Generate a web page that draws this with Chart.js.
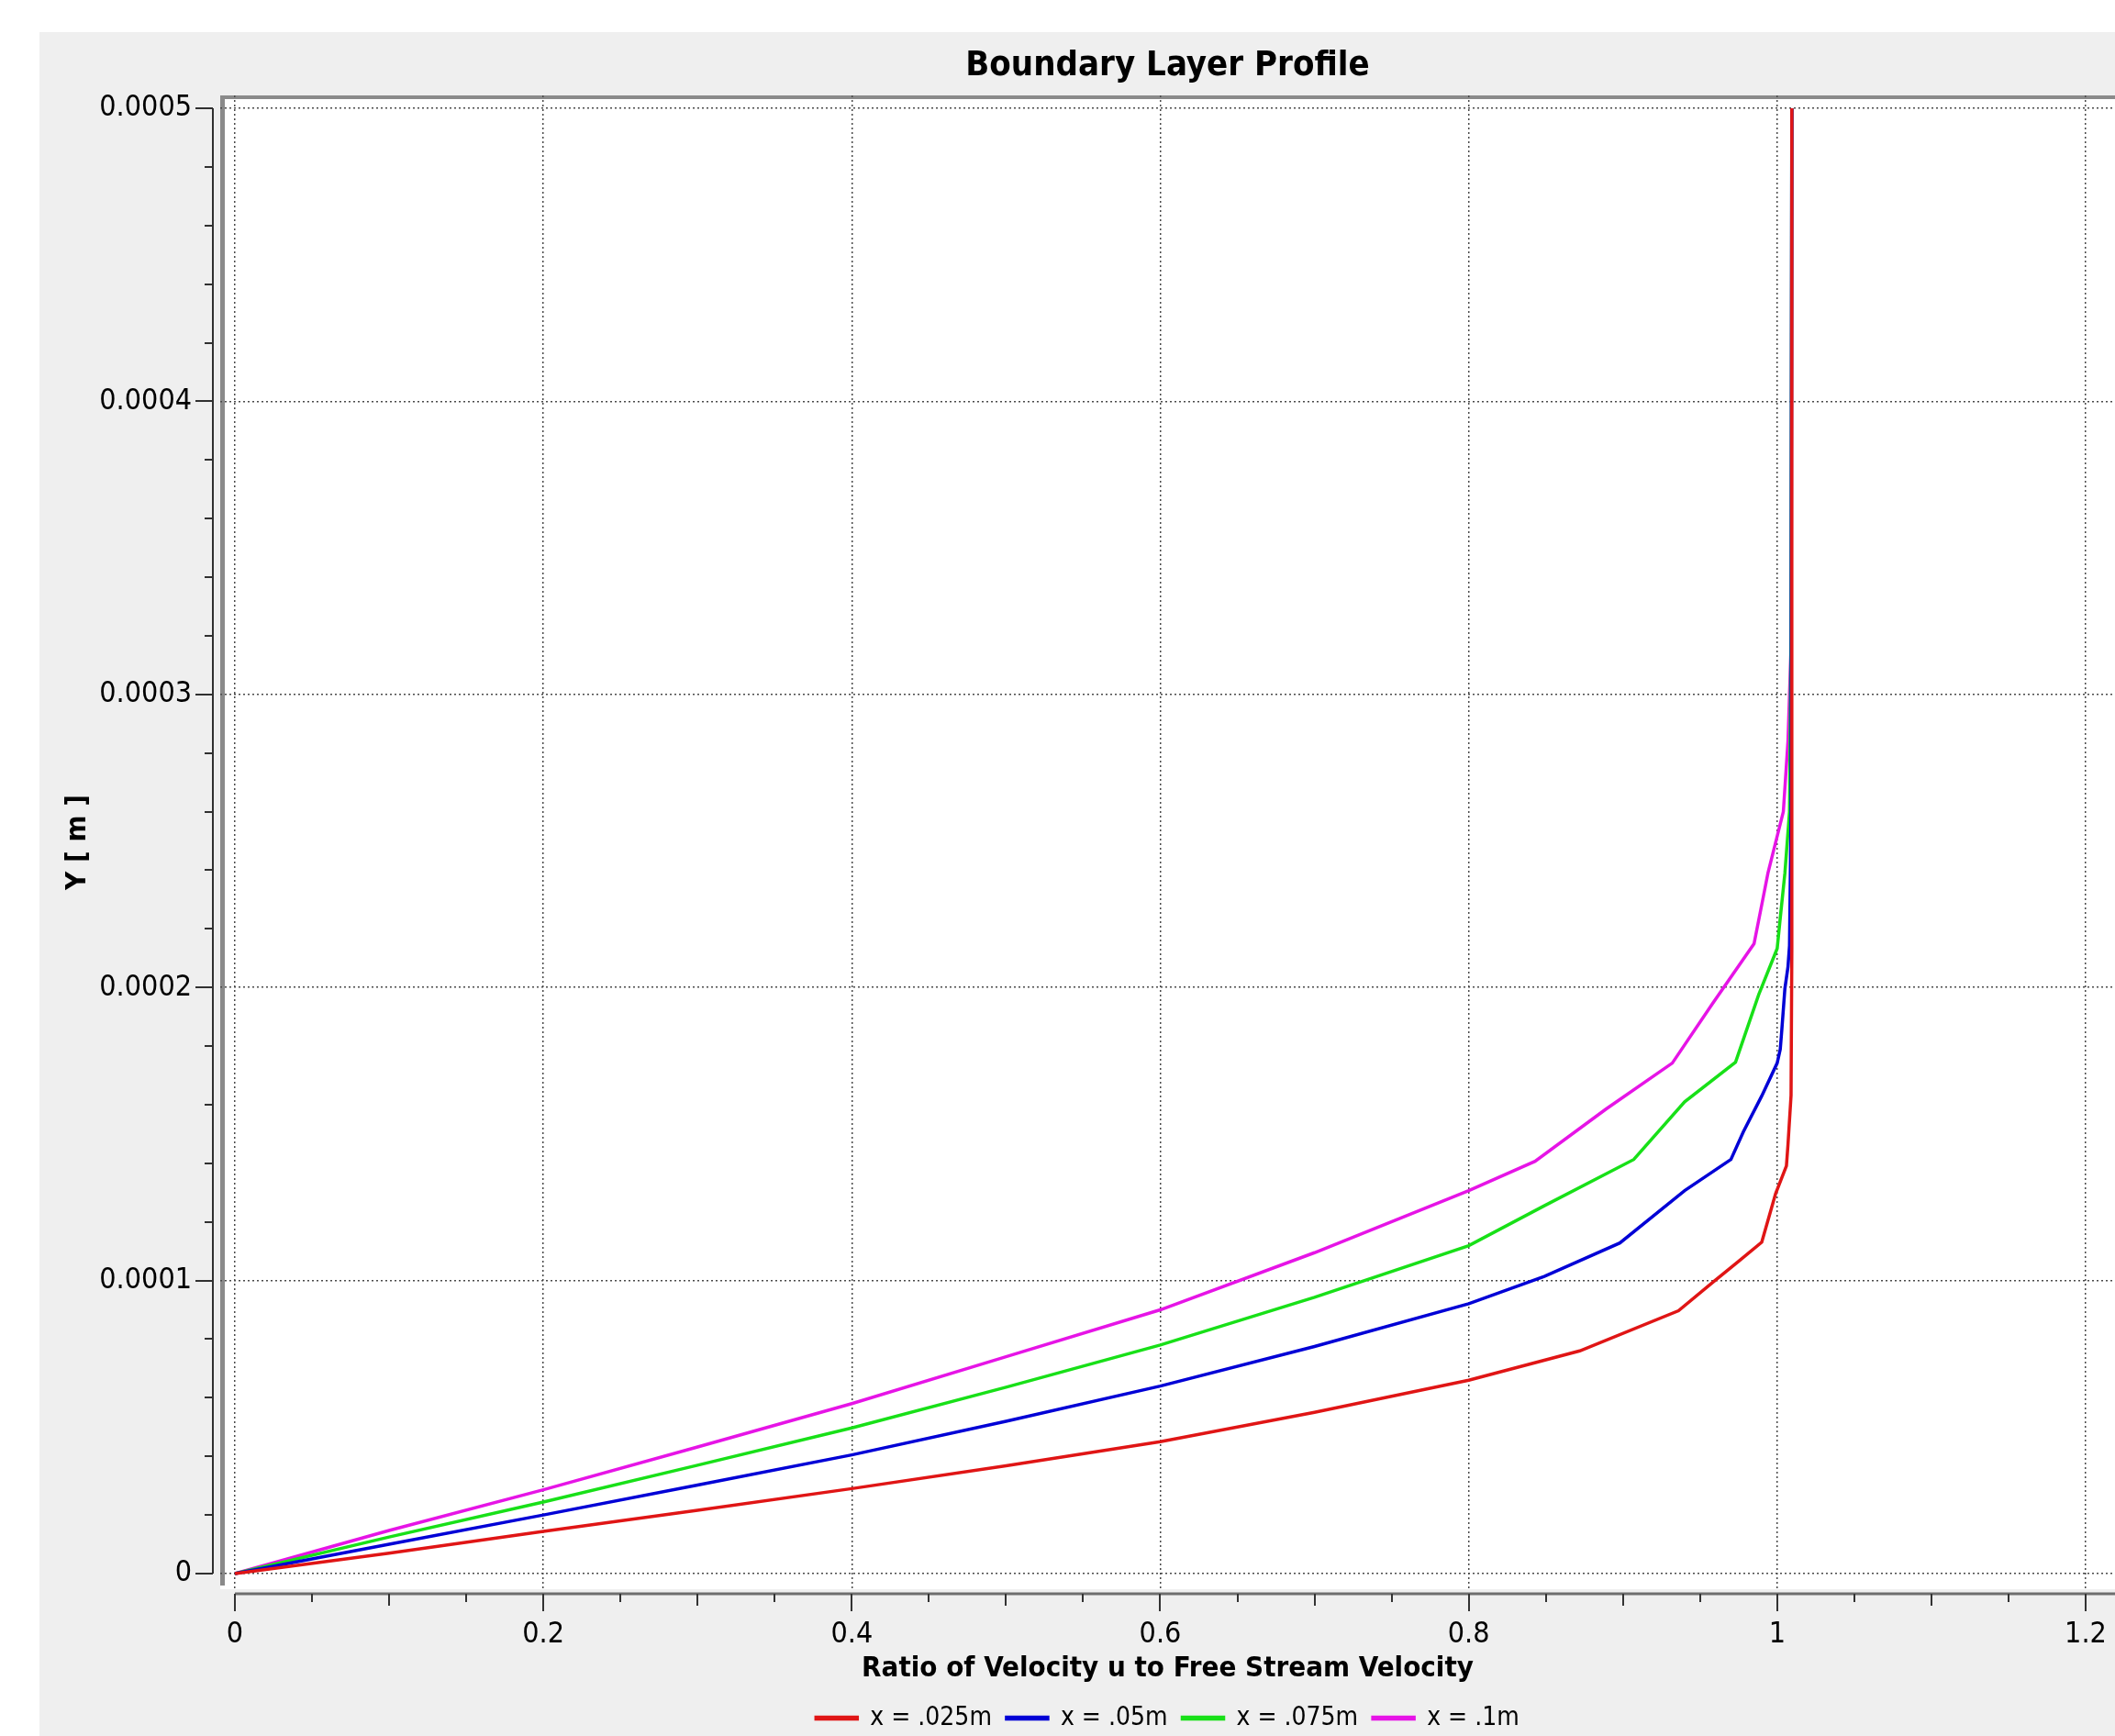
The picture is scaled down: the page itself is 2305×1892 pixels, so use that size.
<!DOCTYPE html>
<html>
<head>
<meta charset="utf-8">
<title>Boundary Layer Profile</title>
<script src="https://cdn.jsdelivr.net/npm/chart.js@4.4.1/dist/chart.umd.min.js"></script>
<style>
  html, body { margin: 0; padding: 0; background: #fff; overflow: hidden; }
  #wrap { width: 2305px; height: 1892px; }
</style>
</head>
<body>
<div id="wrap"><canvas id="chart" width="2305" height="1892"></canvas></div>
<script>
const seriesLabels = ['x = .025m', 'x = .05m', 'x = .075m', 'x = .1m'];
const seriesColors = ['#e01515', '#0000d6', '#18e018', '#e614e6'];

// u / U  vs  Y [m], one pair per station
const ratio025 = [0, 0.1, 0.2, 0.3, 0.4, 0.5, 0.6, 0.7, 0.8, 0.872, 0.936, 0.958, 0.975, 0.990, 0.999, 1.006, 1.007, 1.009, 1.0095, 1.0095];
const y025 = [0, 0.7e-5, 1.44e-5, 2.16e-5, 2.9e-5, 3.68e-5, 4.5e-5, 5.5e-5, 6.6e-5, 7.6e-5, 8.97e-5, 9.93e-5, 1.066e-4, 1.131e-4, 1.297e-4, 1.391e-4, 1.463e-4, 1.632e-4, 2.13e-4, 5.0e-4];

const ratio05 = [0, 0.1, 0.2, 0.3, 0.4, 0.5, 0.6, 0.7, 0.8, 0.849, 0.898, 0.94, 0.97, 0.978, 0.99, 1.0, 1.002, 1.003, 1.005, 1.007, 1.008, 1.009, 1.0095];
const y05 = [0, 1.0e-5, 2.0e-5, 3.02e-5, 4.05e-5, 5.2e-5, 6.4e-5, 7.75e-5, 9.21e-5, 1.014e-4, 1.128e-4, 1.307e-4, 1.413e-4, 1.507e-4, 1.63e-4, 1.742e-4, 1.789e-4, 1.855e-4, 1.996e-4, 2.07e-4, 2.143e-4, 2.6e-4, 5.0e-4];

const ratio075 = [0, 0.1, 0.2, 0.3, 0.4, 0.5, 0.6, 0.7, 0.8, 0.849, 0.907, 0.94, 0.973, 0.988, 1.0, 1.002, 1.005, 1.008, 1.009, 1.0095];
const y075 = [0, 1.25e-5, 2.44e-5, 3.7e-5, 4.97e-5, 6.36e-5, 7.8e-5, 9.43e-5, 1.119e-4, 1.255e-4, 1.413e-4, 1.61e-4, 1.745e-4, 1.975e-4, 2.133e-4, 2.237e-4, 2.39e-4, 2.6e-4, 3.2e-4, 5.0e-4];

const ratio1 = [0, 0.1, 0.2, 0.3, 0.4, 0.5, 0.6, 0.7, 0.8, 0.843, 0.889, 0.932, 0.958, 0.985, 0.991, 0.994, 1.004, 1.007, 1.009, 1.0095];
const y1 = [0, 1.47e-5, 2.86e-5, 4.32e-5, 5.8e-5, 7.4e-5, 9.0e-5, 1.095e-4, 1.307e-4, 1.407e-4, 1.585e-4, 1.742e-4, 1.944e-4, 2.149e-4, 2.309e-4, 2.39e-4, 2.6e-4, 2.84e-4, 3.16e-4, 5.0e-4];

const xTicks = [0, 0.2, 0.4, 0.6, 0.8, 1, 1.2];
const xTickLabels = ['0', '0.2', '0.4', '0.6', '0.8', '1', '1.2'];
const yTicks = [0, 0.0001, 0.0002, 0.0003, 0.0004, 0.0005];
const yTickLabels = ['0', '0.0001', '0.0002', '0.0003', '0.0004', '0.0005'];

const xMinorStep = 0.05;
const yMinorStep = 0.00002;

const FONT = "'DejaVu Sans Condensed', 'Liberation Sans', Arial, sans-serif";

const xs = [ratio025, ratio05, ratio075, ratio1];
const ys = [y025, y05, y075, y1];

const datasets = seriesLabels.map((label, k) => ({
    label: label,
    data: xs[k].map((u, i) => ({ x: u, y: ys[k][i] })),
    borderColor: seriesColors[k],
    backgroundColor: seriesColors[k],
    borderWidth: 3.5,
    pointRadius: 0,
    tension: 0,
    fill: false
}));

// panel background, white plot area and the sunken frame
const framePlugin = {
    id: 'frame',
    beforeDraw(chart) {
        const { ctx, chartArea: a, width, height } = chart;
        ctx.save();
        ctx.fillStyle = '#ffffff';
        ctx.fillRect(0, 0, width, height);
        ctx.fillStyle = '#efefef';
        ctx.fillRect(43, 35, width - 43, height - 35);
        ctx.fillStyle = '#ffffff';
        ctx.fillRect(a.left, a.top, a.right - a.left, a.bottom - a.top);
        ctx.fillStyle = '#8a8a8a';
        ctx.fillRect(a.left, a.top, a.right - a.left, 4);
        ctx.fillRect(a.left, a.top, 5, a.bottom - a.top - 4);
        ctx.restore();
    },
    afterDraw(chart) {
        const { ctx, chartArea: a } = chart;
        const sx = chart.scales.x;
        const sy = chart.scales.y;
        ctx.save();

        // y axis line with major/minor ticks
        const axX = a.left - 8;
        const yTop = sy.getPixelForValue(yTicks[yTicks.length - 1]);
        const yBot = sy.getPixelForValue(yTicks[0]);
        ctx.strokeStyle = '#303030';
        ctx.lineWidth = 2;
        ctx.beginPath();
        ctx.moveTo(axX, yTop);
        ctx.lineTo(axX, yBot);
        const nY = Math.round(yTicks[yTicks.length - 1] / yMinorStep);
        for (let i = 0; i <= nY; i++) {
            const p = Math.round(sy.getPixelForValue(i * yMinorStep));
            const len = i % 5 === 0 ? 19 : 9;
            ctx.moveTo(axX, p);
            ctx.lineTo(axX - len, p);
        }
        ctx.stroke();

        // x axis line with ticks
        const axY = a.bottom + 5;
        const x0 = sx.getPixelForValue(xTicks[0]);
        ctx.strokeStyle = '#6e6e6e';
        ctx.lineWidth = 3;
        ctx.beginPath();
        ctx.moveTo(x0, axY);
        ctx.lineTo(a.right, axY);
        ctx.stroke();

        ctx.strokeStyle = '#333333';
        ctx.lineWidth = 2;
        ctx.beginPath();
        const nX = Math.round(xTicks[xTicks.length - 1] / xMinorStep);
        for (let i = 0; i <= nX; i++) {
            const p = Math.round(sx.getPixelForValue(i * xMinorStep));
            const len = i % 4 === 0 ? 19 : (i % 2 === 0 ? 13 : 9);
            ctx.moveTo(p, axY);
            ctx.lineTo(p, axY + len);
        }
        ctx.stroke();
        ctx.restore();
    }
};

const ctx = document.getElementById('chart').getContext('2d');
new Chart(ctx, {
    type: 'line',
    data: { datasets: datasets },
    plugins: [framePlugin],
    options: {
        responsive: false,
        animation: false,
        devicePixelRatio: 1,
        events: [],
        layout: { padding: { top: 0, left: 0, right: 0, bottom: -4.4 } },
        plugins: {
            tooltip: { enabled: false },
            title: {
                display: true,
                text: 'Boundary Layer Profile',
                fullSize: false,
                color: '#000',
                font: { family: FONT, size: 38, weight: 'bold', lineHeight: 1.2 },
                padding: { top: 49, bottom: 9.4 }
            },
            legend: {
                position: 'bottom',
                align: 'center',
                fullSize: false,
                labels: {
                    boxWidth: 45,
                    boxHeight: 2,
                    padding: 16,
                    color: '#000',
                    font: { family: FONT, size: 28 }
                }
            }
        },
        scales: {
            x: {
                type: 'linear',
                min: -0.00952,
                max: 1.21904,
                afterBuildTicks: s => { s.ticks = xTicks.map(v => ({ value: v })); },
                afterFit: s => { s.height = 110.4; },
                grid: { color: '#4a4a4a', lineWidth: 1.5, drawTicks: true, tickLength: 30, tickColor: 'rgba(0,0,0,0)' },
                border: { display: false, dash: [2, 3] },
                ticks: {
                    padding: 0,
                    color: '#000',
                    autoSkip: false,
                    maxRotation: 0,
                    font: { family: FONT, size: 32 },
                    callback: (v, i) => xTickLabels[i]
                },
                title: {
                    display: true,
                    text: 'Ratio of Velocity u to Free Stream Velocity',
                    color: '#000',
                    font: { family: FONT, size: 31, weight: 'bold', lineHeight: 0.9 },
                    padding: { top: 0, bottom: 9.2 }
                }
            },
            y: {
                type: 'linear',
                min: -0.00000532,
                max: 0.00050438,
                afterBuildTicks: s => { s.ticks = yTicks.map(v => ({ value: v })); },
                afterFit: s => { s.width = 240; },
                grid: { color: '#4a4a4a', lineWidth: 1.5, drawTicks: true, tickLength: 31, tickColor: 'rgba(0,0,0,0)' },
                border: { display: false, dash: [2, 3] },
                ticks: {
                    padding: 0,
                    color: '#000',
                    autoSkip: false,
                    font: { family: FONT, size: 32 },
                    callback: (v, i) => yTickLabels[i]
                },
                title: {
                    display: true,
                    text: 'Y [ m ]',
                    color: '#000',
                    font: { family: FONT, size: 31, weight: 'bold', lineHeight: 1.2 },
                    padding: { top: 66.4, bottom: 0 }
                }
            }
        }
    }
});
</script>
</body>
</html>
